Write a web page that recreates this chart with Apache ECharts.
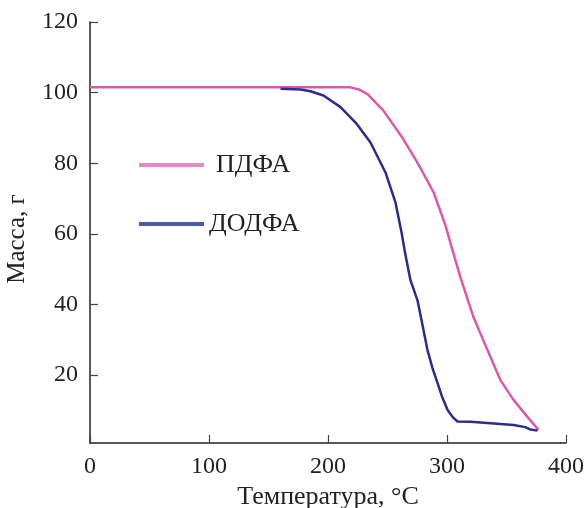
<!DOCTYPE html>
<html>
<head>
<meta charset="utf-8">
<script src="https://cdn.jsdelivr.net/npm/echarts@6/dist/echarts.min.js"></script>
<style>html,body{margin:0;padding:0;background:#fff}#c{width:587px;height:508px}</style>
</head>
<body>
<div id="c"></div>
<script>
const pdfaT = [0, 100, 218.9, 226.0, 233.2, 246.6, 261.8, 275.2, 288.7, 298.7, 304.6, 311.3, 322.3, 334.0, 344.9, 355.9, 367.6, 376.9];
const pdfaM = [101.5, 101.5, 101.5, 100.9, 99.6, 94.9, 87.6, 80.2, 71.8, 62.4, 55.4, 47.7, 36.4, 27.1, 18.6, 13.0, 8.2, 4.5];
const dodfaT = [160.1, 176.9, 185.3, 196.2, 210.5, 224.0, 235.7, 248.3, 256.7, 261.8, 265.1, 269.3, 275.2, 279.4, 283.6, 287.8, 292.0, 296.2, 300.4, 304.6, 308.8, 319.7, 328.2, 344.9, 355.9, 365.9, 370.2, 376.1];
const dodfaM = [101.1, 100.9, 100.4, 99.2, 95.9, 91.2, 85.9, 77.4, 68.9, 60.4, 54.0, 46.9, 41.2, 34.2, 27.1, 22.0, 17.8, 13.6, 10.2, 8.2, 6.9, 6.8, 6.6, 6.2, 5.9, 5.3, 4.6, 4.3];
const xTicks = [0, 100, 200, 300, 400];
const yTicks = [20, 40, 60, 80, 100, 120];
const seriesNames = ['ПДФА', 'ДОДФА'];

const font = 'Liberation Serif';
const zip = (a, b) => a.map((v, i) => [v, b[i]]);
const chart = echarts.init(document.getElementById('c'));
const axisCommon = {
  axisLine: { show: true, onZero: false, lineStyle: { color: '#222', width: 1.5 } },
  axisTick: { show: true, inside: true, length: 8, lineStyle: { color: '#444', width: 1.2 } },
  splitLine: { show: false },
  axisLabel: { color: '#222', fontFamily: font, fontSize: 24 },
  nameTextStyle: { color: '#222', fontFamily: font, fontSize: 26 }
};
const legendText = { fontFamily: font, fontSize: 26, color: '#222' };
chart.setOption({
  animation: false,
  backgroundColor: '#fff',
  grid: { left: 90, right: 21, top: 22, bottom: 65, containLabel: false, outerBoundsMode: 'none' },
  legend: [
    { left: 139, top: 152, padding: 0, itemWidth: 65, itemHeight: 4, itemGap: 0,
      textStyle: Object.assign({}, legendText, { padding: [0, 0, 0, 7] }),
      icon: 'rect', data: [{ name: seriesNames[0], itemStyle: { color: '#e08cc0' } }] },
    { left: 139, top: 211, padding: 0, itemWidth: 65, itemHeight: 4, itemGap: 0,
      textStyle: legendText,
      icon: 'rect', data: [{ name: seriesNames[1], itemStyle: { color: '#4b5cad' } }] }
  ],
  xAxis: Object.assign({}, axisCommon, {
    type: 'value', min: xTicks[0], max: xTicks[xTicks.length - 1], interval: 100,
    name: 'Температура, °C', nameLocation: 'middle', nameGap: 41,
    axisLabel: Object.assign({}, axisCommon.axisLabel, { margin: 12 })
  }),
  yAxis: Object.assign({}, axisCommon, {
    type: 'value', min: 0.8, max: 120,
    name: 'Масса, г', nameLocation: 'middle', nameGap: 60,
    nameTextStyle: Object.assign({}, axisCommon.nameTextStyle, { fontSize: 25, padding: [0, 13, 0, 0] }),
    axisTick: Object.assign({}, axisCommon.axisTick, { customValues: yTicks }),
    axisLabel: Object.assign({}, axisCommon.axisLabel, { margin: 12, customValues: yTicks })
  }),
  series: [
    { name: seriesNames[0], type: 'line', showSymbol: false, data: zip(pdfaT, pdfaM),
      lineStyle: { color: '#de58a8', width: 2.5 }, itemStyle: { color: '#e08cc0' }, z: 2 },
    { name: seriesNames[1], type: 'line', showSymbol: false, data: zip(dodfaT, dodfaM),
      lineStyle: { color: '#2c2c90', width: 2.5 }, itemStyle: { color: '#4b5cad' }, z: 3 }
  ]
});
</script>
</body>
</html>
